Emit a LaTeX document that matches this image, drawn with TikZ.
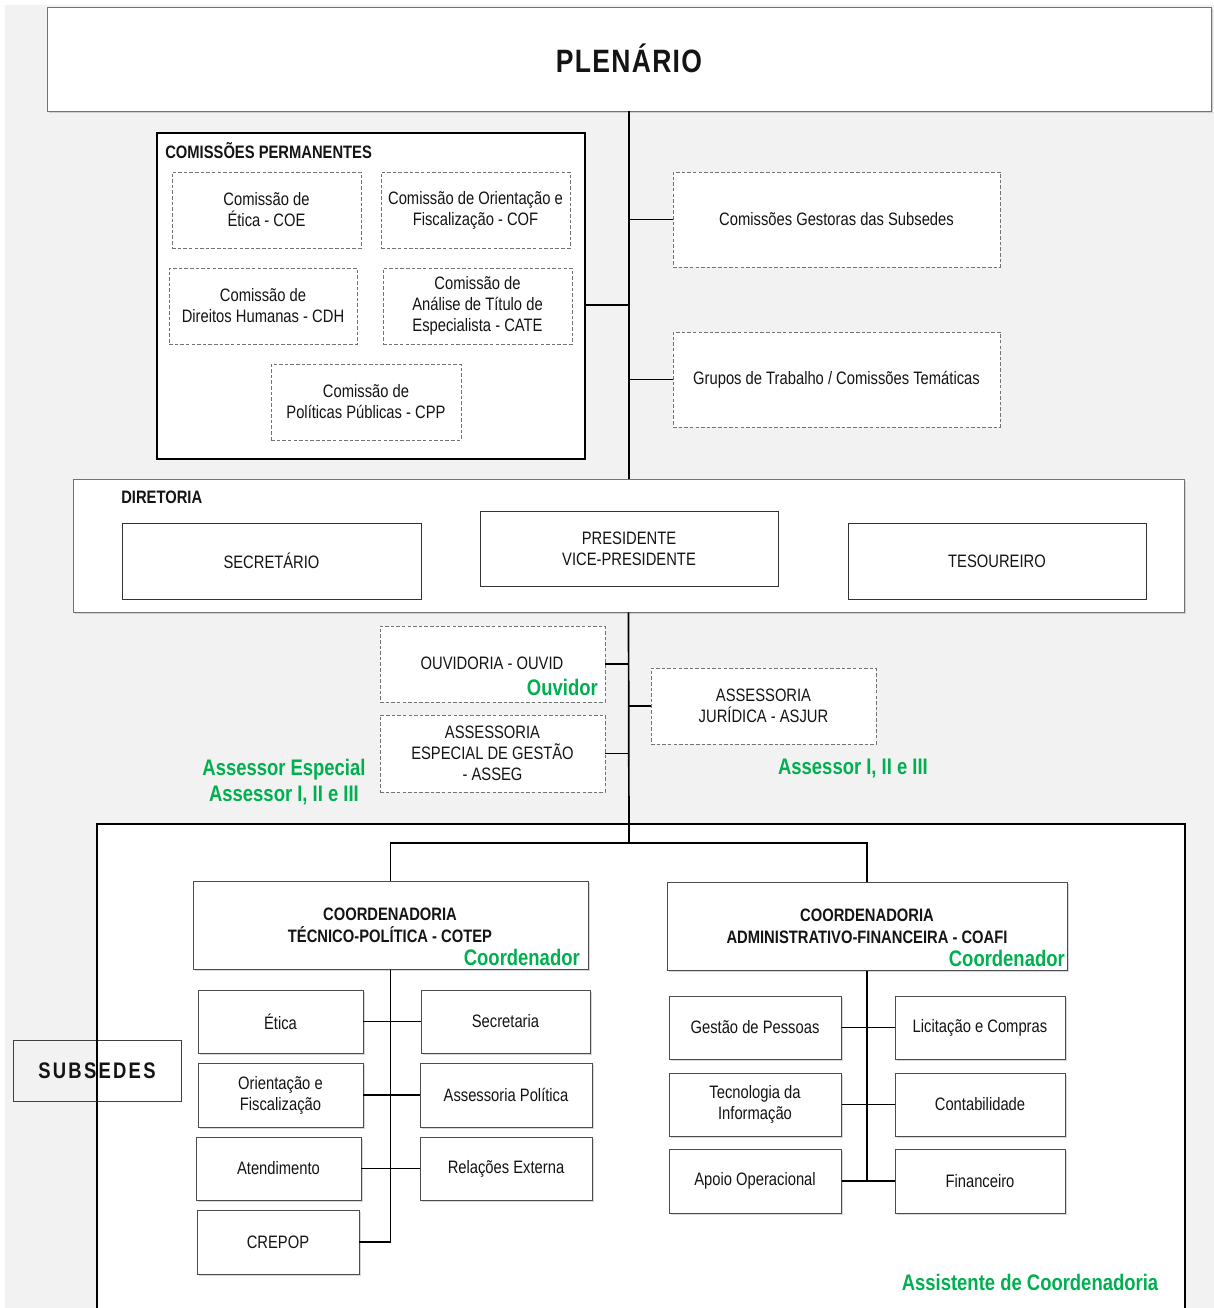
\documentclass[tikz,border=0pt]{standalone}
\usepackage{fontspec}
\setmainfont{Liberation Sans}[FakeStretch=0.82]
\usetikzlibrary{shadows}
\definecolor{grn}{HTML}{00B050}
\definecolor{bgc}{HTML}{F2F2F2}
\newcommand\bx[7]{\node[#6, minimum width={(#4-#2)*0.025cm}, minimum height={(#5-#3)*0.025cm}] (#1) at ({(#2+#4)/2},{(#3+#5)/2}) {#7};}
\begin{document}
\begin{tikzpicture}[x=0.025cm,y=-0.025cm,
  every node/.style={font=\fontsize{12.8}{15}\selectfont, text=black!92},
  bx/.style={draw=black!70, fill=white, inner sep=0pt, align=center, line width=0.7pt},
  dbx/.style={draw=black!55, dash pattern=on 2.5pt off 1.5pt, fill=white, inner sep=0pt, align=center, line width=0.6pt},
  sbx/.style={bx, drop shadow={shadow xshift=1.6pt, shadow yshift=-1.6pt, fill=black!30, opacity=0.5}},
  conn/.style={line width=1.2pt, black},
  gtxt/.style={font=\fontsize{16}{19}\selectfont\bfseries, text=grn, inner sep=0pt, align=center},
  ttl/.style={font=\fontsize{12.8}{15}\selectfont\bfseries, inner sep=0pt, anchor=west},
  btxt/.style={font=\fontsize{12.8}{15.5}\selectfont\bfseries},
]
\useasboundingbox (0,0) rectangle (1214,1308);
\clip (0,0) rectangle (1214,1308);
\fill[white] (0,0) rectangle (1214,1308);
\fill[bgc] (5,5) rectangle (1214,1310);

% PLENARIO
\bx{plen}{47}{7}{1211}{111}{sbx, draw=black!55}{}
\node[font=\fontsize{23}{26}\selectfont\bfseries\addfontfeatures{LetterSpace=4}] (plent) at (629,58) {PLENÁRIO};

% Comissoes permanentes
\bx{perm}{157}{133}{585}{459}{draw=black, fill=white, line width=0.9pt, inner sep=0pt}{}
\node[ttl] (permt) at (165,151) {COMISSÕES PERMANENTES};
\bx{coe}{172}{172}{361}{248}{dbx}{Comissão de\\Ética - COE}
\bx{cof}{381}{172}{570}{248}{dbx}{Comissão de Orientação e\\Fiscalização - COF}
\bx{cdh}{169}{268}{357}{344}{dbx}{Comissão de\\Direitos Humanas - CDH}
\bx{cate}{383}{268}{572}{344}{dbx}{Comissão de\\Análise de Título de\\Especialista - CATE}
\bx{cpp}{271}{364}{461}{440}{dbx}{Comissão de\\Políticas Públicas - CPP}

\bx{ges}{673}{172}{1000}{267}{dbx}{Comissões Gestoras das Subsedes}
\bx{gt}{673}{332}{1000}{427}{dbx}{Grupos de Trabalho / Comissões Temáticas}

% Diretoria
\bx{dir}{73}{479}{1184}{612}{sbx, draw=black!55}{}
\node[ttl] (dirt) at (121,497) {DIRETORIA};
\bx{sec}{122}{523}{421}{599}{bx, draw=black!80}{SECRETÁRIO}
\bx{pres}{480}{511}{778}{586}{bx, draw=black!80}{PRESIDENTE\\VICE-PRESIDENTE}
\bx{tes}{848}{523}{1146}{599}{bx, draw=black!80}{TESOUREIRO}

% trunk
\draw[conn] (plen.south) -- (plen.south |- dir.north);
\draw[conn] ([yshift=-9*0.025cm]perm.east) -- ([yshift=-9*0.025cm]perm.east -| plen.south);
\draw[conn] (ges.west) -- (ges.west -| plen.south);
\draw[conn] (gt.west) -- (gt.west -| plen.south);

% assessorias
\bx{ouv}{380}{626}{605}{702}{dbx}{}
\node (ouvt) at (492,663) {OUVIDORIA - OUVID};
\node[gtxt, anchor=east] (ouvg) at (598,687) {Ouvidor};
\bx{asseg}{380}{715}{605}{792}{dbx}{ASSESSORIA\\ESPECIAL DE GESTÃO\\- ASSEG}
\bx{asjur}{651}{668}{876}{744}{dbx}{ASSESSORIA\\JURÍDICA - ASJUR}
\node[gtxt] (ase) at (284,782) {Assessor Especial\\Assessor I, II e III};
\node[gtxt] (asj) at (853,768) {Assessor I, II e III};

% big box
\fill[white] (97,824) rectangle (1185,1312);
\bx{subs}{13}{1040}{181}{1101}{bx, draw=black!75, fill=none, font=\fontsize{16}{19}\selectfont\bfseries\addfontfeatures{LetterSpace=10}}{SUBSEDES}
\draw[black, line width=0.9pt] (97,1320) -- (97,824) coordinate (bigtl) -- (1185,824) -- (1185,1320);

\coordinate (br) at (629,843);
\draw[conn] (dir.south) -- (br);
\draw[conn] (ouv.east) -- (ouv.east -| br);
\draw[conn] (asseg.east) -- (asseg.east -| br);
\draw[conn] (asjur.west) -- (asjur.west -| br);

% coordenadorias
\bx{cotep}{193}{881}{588}{969}{sbx}{}
\node[btxt, align=center] (cotept) at (390,925) {COORDENADORIA\\TÉCNICO-POLÍTICA - COTEP};
\node[gtxt, anchor=east] (cotepg) at (580,957) {Coordenador};
\bx{coafi}{667}{882}{1067}{970}{sbx}{}
\node[btxt, align=center] (coafit) at (867,926) {COORDENADORIA\\ADMINISTRATIVO-FINANCEIRA - COAFI};
\node[gtxt, anchor=east] (coafig) at (1065,958) {Coordenador};
\draw[conn] (cotep.north) |- (br) -| (coafi.north);

% COTEP children
\bx{etica}{198}{990}{363}{1053}{sbx}{Ética}
\bx{secr}{421}{990}{590}{1053}{sbx}{Secretaria}
\bx{orf}{198}{1063}{363}{1127}{sbx}{Orientação e\\Fiscalização}
\bx{aspol}{420}{1063}{592}{1127}{sbx}{Assessoria Política}
\bx{atend}{196}{1137}{361}{1200}{sbx}{Atendimento}
\bx{relex}{420}{1137}{592}{1200}{sbx}{Relações Externa}
\bx{crepop}{197}{1210}{359}{1274}{sbx}{CREPOP}
\draw[conn] (cotep.south) -- (cotep.south |- crepop.east) -- (crepop.east);
\foreach \n in {etica,orf,atend} \draw[conn] (\n.east) -- (\n.east -| cotep.south);
\foreach \n in {secr,aspol,relex} \draw[conn] (\n.west) -- (\n.west -| cotep.south);

% COAFI children
\bx{gp}{669}{996}{841}{1059}{sbx}{Gestão de Pessoas}
\bx{lic}{895}{996}{1065}{1059}{sbx}{Licitação e Compras}
\bx{ti}{669}{1073}{841}{1136}{sbx}{Tecnologia da\\Informação}
\bx{cont}{895}{1073}{1065}{1136}{sbx}{Contabilidade}
\bx{apoio}{669}{1149}{841}{1213}{sbx}{Apoio Operacional}
\bx{fin}{895}{1149}{1065}{1213}{sbx}{Financeiro}
\draw[conn] (coafi.south) -- (coafi.south |- apoio.east);
\foreach \n in {gp,ti,apoio} \draw[conn] (\n.east) -- (\n.east -| coafi.south);
\foreach \n in {lic,cont,fin} \draw[conn] (\n.west) -- (\n.west -| coafi.south);

\node[gtxt] (asc) at (1030,1282) {Assistente de Coordenadoria};
\end{tikzpicture}
\end{document}
